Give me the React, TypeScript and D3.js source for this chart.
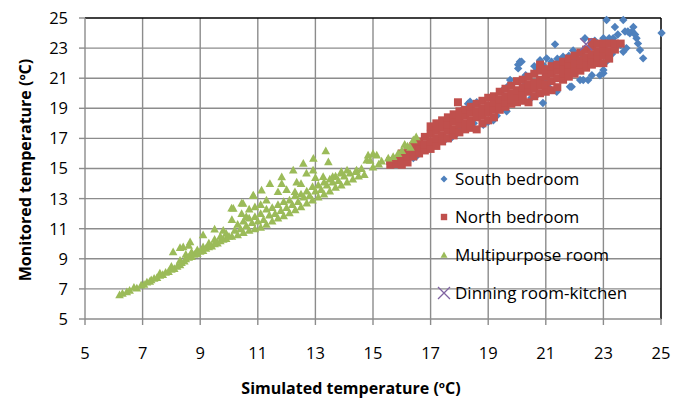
import React from 'react';
import * as d3 from 'd3';

// [simulated, monitored] pairs
const southBedroom: [number, number][] = [
  [16.4, 15.7], [16.5, 15.8], [16.8, 16.4], [17.1, 16.6], [17.4, 18.0], [17.5, 16.9], [17.67, 17.1], [17.7, 17.0],
  [17.9, 17.3], [18.1, 18.9], [18.3, 19.3], [18.37, 19.44], [18.6, 19.4], [18.5, 18.0], [18.83, 17.9], [19.0, 18.1],
  [19.18, 18.2], [19.3, 18.5], [19.5, 20.2], [19.64, 18.8], [19.7, 20.5], [19.76, 20.88], [19.93, 19.4], [20.04, 21.65],
  [20.04, 21.9], [20.1, 22.09], [20.16, 22.1], [20.3, 21.2], [20.5, 19.7], [20.7, 21.6], [20.9, 19.35], [20.9, 21.88],
  [21.03, 22.32], [21.2, 22.1], [21.32, 23.25], [21.38, 20.1], [21.38, 20.2], [21.5, 22.2], [21.6, 22.43], [21.7, 22.0],
  [21.84, 20.43], [21.9, 20.43], [21.95, 22.84], [22.0, 22.3], [22.19, 20.88], [22.3, 20.88], [22.3, 22.5], [22.36, 23.65],
  [22.47, 20.88], [22.6, 21.2], [22.7, 23.5], [22.88, 21.2], [23.0, 21.54], [23.0, 23.65], [23.0, 21.33], [23.1, 22.1],
  [23.11, 24.87], [23.2, 23.65], [23.34, 23.65], [23.4, 24.4], [23.5, 23.9], [23.69, 24.87], [23.69, 22.76], [23.75, 24.1],
  [23.8, 23.0], [23.92, 23.98], [24.04, 24.4], [24.0, 24.1], [24.15, 23.65], [24.2, 23.3], [24.27, 22.87], [24.38, 22.32],
  [25.02, 24.0], [22.9, 22.8], [22.5, 22.0], [21.0, 21.0], [20.6, 20.5], [19.9, 19.9], [19.2, 19.5], [18.8, 18.7],
  [18.0, 17.6], [20.3, 20.6], [21.8, 21.4], [22.2, 21.6], [23.3, 22.6], [23.6, 23.2], [24.1, 23.9], [23.85, 24.1],
  [20.7, 19.9], [21.1, 20.4], [19.5, 19.0], [20.6, 21.8], [20.8, 22.2], [21.4, 22.3], [21.8, 22.5], [22.1, 22.6],
];

const northBedroom: [number, number][] = [
  [15.6, 15.25], [15.6, 15.5], [15.8, 15.3], [15.8, 15.6], [16.0, 15.25], [16.0, 15.7], [16.0, 16.0],
  [16.2, 15.4], [16.2, 15.8], [16.2, 16.2], [16.4, 15.8], [16.4, 16.1], [16.4, 16.5],
  [16.6, 16.0], [16.6, 16.4], [16.6, 16.8], [16.8, 16.2], [16.8, 16.6], [16.8, 17.1],
  [17.0, 16.3], [17.0, 16.8], [17.0, 17.3], [17.0, 17.8], [17.2, 16.5], [17.2, 17.0], [17.2, 17.5], [17.2, 18.0],
  [17.4, 16.8], [17.4, 17.2], [17.4, 17.7], [17.4, 18.2], [17.6, 17.0], [17.6, 17.5], [17.6, 17.9], [17.6, 18.4],
  [17.8, 17.2], [17.8, 17.6], [17.8, 18.1], [17.8, 18.6], [18.0, 17.4], [18.0, 17.9], [18.0, 18.3], [18.0, 18.8], [17.95, 19.4],
  [18.2, 17.6], [18.2, 18.0], [18.2, 18.5], [18.2, 18.9], [18.4, 17.7], [18.4, 18.2], [18.4, 18.7], [18.4, 19.1],
  [18.6, 17.6], [18.6, 18.4], [18.6, 18.8], [18.6, 19.3], [18.8, 18.0], [18.8, 18.5], [18.8, 19.0], [18.8, 19.5],
  [19.0, 18.2], [19.0, 18.7], [19.0, 19.2], [19.0, 19.7], [19.2, 18.4], [19.2, 18.9], [19.2, 19.4], [19.2, 19.8],
  [19.4, 18.9], [19.4, 19.2], [19.4, 19.6], [19.4, 20.1], [19.6, 19.1], [19.6, 19.4], [19.6, 19.8], [19.6, 20.3],
  [19.8, 19.3], [19.8, 19.6], [19.8, 20.0], [19.8, 20.5], [20.0, 19.4], [20.0, 19.8], [20.0, 20.2], [20.0, 20.8],
  [20.2, 19.5], [20.2, 20.0], [20.2, 20.4], [20.2, 20.9], [20.4, 19.4], [20.4, 20.1], [20.4, 20.6], [20.4, 21.1],
  [20.6, 19.8], [20.6, 20.3], [20.6, 20.7], [20.6, 21.3], [20.8, 20.0], [20.8, 20.5], [20.8, 20.9], [20.8, 21.5], [20.8, 21.9],
  [21.0, 20.1], [21.0, 20.6], [21.0, 21.1], [21.0, 21.6], [21.2, 20.2], [21.2, 20.8], [21.2, 21.3], [21.2, 21.8],
  [21.4, 20.4], [21.4, 21.0], [21.4, 21.5], [21.4, 21.9], [21.6, 20.9], [21.6, 21.3], [21.6, 21.7], [21.6, 22.1],
  [21.8, 21.1], [21.8, 21.5], [21.8, 21.9], [21.8, 22.3], [22.0, 21.3], [22.0, 21.7], [22.0, 22.0], [22.0, 22.5],
  [22.2, 21.5], [22.2, 21.9], [22.2, 22.2], [22.2, 22.7], [22.4, 21.7], [22.4, 22.0], [22.4, 22.4], [22.4, 22.9],
  [22.6, 21.9], [22.6, 22.2], [22.6, 22.6], [22.6, 23.1], [22.6, 23.4], [22.8, 22.0], [22.8, 22.4], [22.8, 22.8], [22.8, 23.3],
  [23.0, 22.0], [23.0, 22.5], [23.0, 23.0], [23.0, 23.3], [23.2, 22.3], [23.2, 22.8], [23.2, 23.3],
  [23.4, 22.9], [23.4, 23.3], [23.6, 23.3],
];

const multipurposeRoom: [number, number][] = [
  [6.2, 6.6], [6.3, 6.7], [6.45, 6.8], [6.55, 6.9], [6.7, 7.1], [6.8, 7.05], [6.95, 7.25], [7.05, 7.3], [7.15, 7.45],
  [7.25, 7.5], [7.3, 7.6], [7.4, 7.7], [7.5, 7.75], [7.6, 7.9], [7.7, 7.95], [7.8, 8.1], [7.9, 8.15], [8.0, 8.3],
  [8.1, 8.35], [8.2, 8.5], [8.3, 8.6], [8.35, 8.75], [8.45, 8.85], [8.5, 9.0], [8.6, 9.1], [8.7, 9.15], [8.8, 9.3],
  [8.9, 9.35], [9.0, 9.5], [9.1, 9.55], [9.2, 9.7], [9.3, 9.8], [9.4, 9.85], [9.5, 10.0], [9.6, 10.05], [9.7, 10.2],
  [9.8, 10.3], [9.9, 10.35], [10.0, 10.5],
  [7.6, 8.05], [8.0, 8.5], [8.3, 8.9], [8.5, 9.3], [8.7, 9.45], [8.9, 9.6], [9.1, 9.8], [9.3, 10.05], [9.5, 10.3],
  [9.7, 10.5], [9.9, 10.7],
  [8.06, 9.47], [8.3, 9.75], [8.41, 9.8], [8.65, 10.13], [8.6, 9.9], [9.1, 10.6], [9.5, 10.98], [9.8, 10.9],
  [10.1, 11.6], [10.09, 12.37], [10.44, 12.7], [10.44, 12.0], [10.85, 13.2], [10.9, 12.46], [10.3, 11.3], [10.6, 11.8],
  [10.1, 10.5], [10.3, 10.6], [10.5, 10.75], [10.7, 10.9], [10.9, 11.0], [11.1, 11.1], [11.3, 11.3], [11.5, 11.5],
  [11.7, 11.7], [11.9, 11.85], [12.1, 12.05], [12.3, 12.25], [12.5, 12.45], [12.7, 12.7], [12.9, 12.9], [13.1, 13.1],
  [13.3, 13.3], [13.5, 13.5], [13.7, 13.75], [13.9, 13.9], [14.1, 14.1], [14.3, 14.3], [14.5, 14.5],
  [10.2, 10.9], [10.4, 11.0], [10.6, 11.2], [10.8, 11.4], [11.0, 11.5], [11.2, 11.6], [11.4, 11.9], [11.6, 12.0],
  [11.8, 12.2], [12.0, 12.4], [12.2, 12.6], [12.4, 12.8], [12.6, 13.1], [12.8, 13.2], [13.0, 13.5], [13.2, 13.6],
  [13.4, 13.9], [13.6, 14.1], [13.8, 14.2], [14.0, 14.5], [14.2, 14.7], [14.4, 14.8],
  [10.5, 11.5], [10.7, 11.7], [10.9, 11.8], [11.1, 12.0], [11.3, 12.3], [11.5, 12.4], [11.7, 12.6], [11.9, 12.8],
  [12.1, 12.9], [12.3, 13.2], [12.5, 13.3], [12.7, 13.5], [12.9, 13.8], [13.1, 13.9], [13.3, 14.1], [13.5, 14.3],
  [13.7, 14.5], [13.9, 14.7], [14.1, 14.9],
  [11.13, 13.57], [10.84, 13.24], [10.49, 12.69], [10.15, 12.36], [11.42, 14.0], [11.83, 14.45], [11.83, 14.0],
  [12.23, 14.9], [12.35, 14.1], [12.58, 15.35], [12.69, 14.69], [12.92, 14.9], [12.93, 15.67], [13.36, 16.18],
  [13.45, 15.45], [12.29, 13.46], [11.7, 13.46], [11.3, 12.9], [13.6, 14.46], [13.9, 14.79], [13.27, 14.46],
  [12.0, 13.6], [12.5, 14.0], [13.0, 14.4], [11.1, 12.6], [10.7, 12.3],
  [14.43, 14.9], [14.6, 15.0], [14.78, 15.56], [14.83, 15.9], [15.0, 16.0], [14.9, 15.55], [15.13, 15.9], [15.3, 15.5],
  [15.53, 15.7], [15.7, 15.8], [15.87, 16.0], [16.0, 16.2], [16.2, 16.5], [16.4, 16.9], [16.5, 17.1], [15.2, 15.3],
  [14.7, 14.6], [15.0, 15.1], [16.1, 16.6], [16.3, 16.4],
];

const dinningRoomKitchen: [number, number][] = [[22.4, 23.25]];

const ticks = [5, 7, 9, 11, 13, 15, 17, 19, 21, 23, 25];
const legendNames = ['South bedroom', 'North bedroom', 'Multipurpose room', 'Dinning room-kitchen'];
const colors = ['#4f81bd', '#c0504d', '#9bbb59', '#8064a2'];

const width = 674;
const height = 399;
const margin = { top: 18, right: 13, bottom: 80, left: 85 };
const font = "'Open Sans', sans-serif";

// Excel-style marker outlines, r = half size
const diamondPath = (r: number) => `M0,${-r}L${r},0L0,${r}L${-r},0Z`;
const squarePath = (r: number) => `M${-r},${-r}H${r}V${r}H${-r}Z`;
const trianglePath = (r: number) => `M0,${-r}L${r},${r * 0.8}L${-r},${r * 0.8}Z`;
const crossPath = (r: number) => `M${-r},${-r}L${r},${r}M${-r},${r}L${r},${-r}`;

const App = () => {
  const x = d3.scaleLinear().domain([5, 25]).range([margin.left, width - margin.right]);
  const y = d3.scaleLinear().domain([5, 25]).range([height - margin.bottom, margin.top]);

  const x0 = x(5), x1 = x(25), y0 = y(5), y1 = y(25);
  const grid = '#8c8c8c';

  const legendY = [179, 217, 255, 293];
  const legendMarks = [diamondPath(3.5), squarePath(3.2), trianglePath(3.5)];

  return (
    <svg width={width} height={height} style={{ position: 'absolute', left: 0, top: 0 }}>
      <rect width={width} height={height} fill="#fff" />
      {/* grid */}
      {ticks.slice(1, -1).map(t => (
        <line key={'gx' + t} x1={x(t)} x2={x(t)} y1={y1} y2={y0} stroke={grid} strokeWidth={1.4} />
      ))}
      {ticks.slice(1, -1).map(t => (
        <line key={'gy' + t} x1={x0} x2={x1} y1={y(t)} y2={y(t)} stroke={grid} strokeWidth={1.4} />
      ))}
      {/* plot border */}
      <line x1={x0} x2={x1} y1={y1} y2={y1} stroke="#000" strokeWidth={1.5} />
      <line x1={x1} x2={x1} y1={y1} y2={y0} stroke="#000" strokeWidth={1.5} />
      {/* axes */}
      <line x1={x0} x2={x0} y1={y1} y2={y0} stroke={grid} strokeWidth={1.4} />
      <line x1={x0} x2={x1} y1={y0} y2={y0} stroke={grid} strokeWidth={1.4} />
      {ticks.map(t => (
        <g key={'t' + t}>
          <line x1={x0 - 6} x2={x0} y1={y(t)} y2={y(t)} stroke={grid} strokeWidth={1.4} />
          <line x1={x(t)} x2={x(t)} y1={y0} y2={y0 + 6} stroke={grid} strokeWidth={1.4} />
          <text x={x0 - 17} y={y(t)} dy="0.36em" textAnchor="end" fontFamily={font} fontSize={16.5} fill="#000">{t}</text>
          <text x={x(t)} y={y0 + 40} textAnchor="middle" fontFamily={font} fontSize={16.5} fill="#000">{t}</text>
        </g>
      ))}
      {/* series */}
      <g fill={colors[0]}>
        {southBedroom.map((d, i) => <path key={i} d={diamondPath(4.2)} transform={`translate(${x(d[0])},${y(d[1])})`} />)}
      </g>
      <g fill={colors[1]}>
        {northBedroom.map((d, i) => <path key={i} d={squarePath(4)} transform={`translate(${x(d[0])},${y(d[1])})`} />)}
      </g>
      <g fill={colors[2]}>
        {multipurposeRoom.map((d, i) => <path key={i} d={trianglePath(4.3)} transform={`translate(${x(d[0])},${y(d[1])})`} />)}
      </g>
      <g stroke={colors[3]} strokeWidth={1.5} fill="none">
        {dinningRoomKitchen.map((d, i) => (
          <path key={i} d={crossPath(6)} transform={`translate(${x(d[0])},${y(d[1])})`} />
        ))}
      </g>
      {/* legend */}
      {legendNames.map((name, i) => (
        <g key={name} transform={`translate(444,${legendY[i]})`}>
          {i < 3
            ? <path d={legendMarks[i]} fill={colors[i]} />
            : <path d={crossPath(6)} stroke={colors[3]} strokeWidth={1.3} fill="none" />}
          <text x={11} dy="0.36em" fontFamily={font} fontSize={17} fill="#000">{name}</text>
        </g>
      ))}
      {/* axis titles */}
      <text x={351} y={394} textAnchor="middle" fontFamily={font} fontSize={16} fontWeight="bold" fill="#000">Simulated temperature (ºC)</text>
      <text transform="translate(25,170) rotate(-90)" dy="0.35em" textAnchor="middle" fontFamily={font} fontSize={16} fontWeight="bold" fill="#000">Monitored temperature (ºC)</text>
    </svg>
  );
};

export default App;
